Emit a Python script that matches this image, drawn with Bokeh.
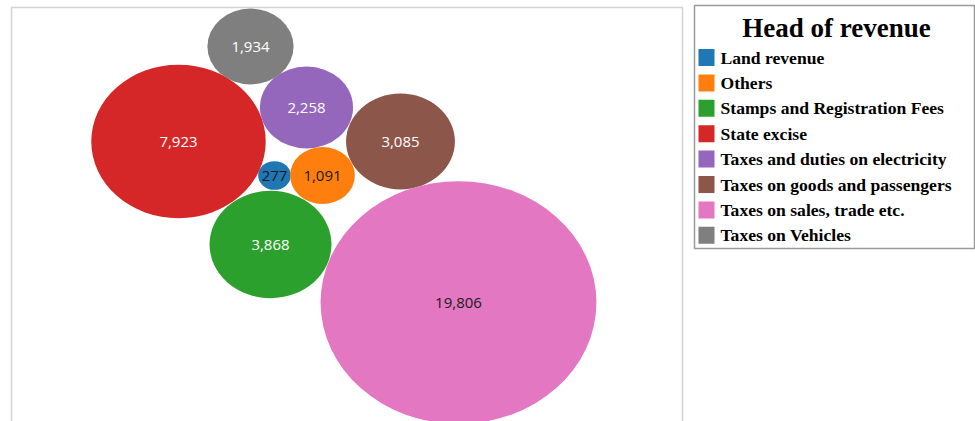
from bokeh.plotting import figure
from bokeh.models import Range1d, ColumnDataSource
from bokeh.core.properties import value
from bokeh.embed import file_html
from bokeh.resources import INLINE
import numpy as np

# ---- data ----
heads = ["Land revenue", "Others", "Stamps and Registration Fees", "State excise",
         "Taxes and duties on electricity", "Taxes on goods and passengers",
         "Taxes on sales, trade etc.", "Taxes on Vehicles"]
amounts = [277, 1091, 3868, 7923, 2258, 3085, 19806, 1934]
colors = ["#1f77b4", "#ff7f0e", "#2ca02c", "#d62728",
          "#9467bd", "#8c564b", "#e377c2", "#7f7f7f"]
label_colors = ["#1a1a1a", "#1a1a1a", "white", "white", "white", "white", "#1a1a1a", "white"]
legend_title = "Head of revenue"

# ---- packed-bubble layout (screen pixel space) ----
cx = [274, 322, 270, 178, 306, 400, 458, 250]
cy = [175, 175, 244, 141, 107, 141, 302, 46]
size_k = 1.96     # px of width per sqrt(value)
aspect = 0.88     # height / width

W, H = 975, 421
p = figure(width=W, height=H, output_backend="svg", toolbar_location=None,
           x_range=Range1d(0, W), y_range=Range1d(H, 0),
           min_border=0, outline_line_color=None)
p.axis.visible = False
p.grid.visible = False
p.background_fill_color = "white"
p.border_fill_color = "white"

# plot frame
p.quad(left=[11], right=[682], top=[7], bottom=[430], fill_color=None,
       line_color="#d4d4d4", line_width=1.5)

w = [size_k * np.sqrt(v) for v in amounts]
h = [aspect * x for x in w]
src = ColumnDataSource(dict(x=cx, y=cy, w=w, h=h, c=colors, lc=label_colors,
                            lab=[f"{v:,}" for v in amounts]))
p.ellipse(x="x", y="y", width="w", height="h", fill_color="c", line_color=None, source=src)
p.text(x="x", y="y", text="lab", text_color="lc", text_align="center",
       text_baseline="middle", text_font=value("Open Sans"), text_font_size="15px", source=src)

# legend box
p.quad(left=[694], right=[974], top=[5], bottom=[248], fill_color="white",
       line_color="#9a9a9a", line_width=1.5)
p.text(x=[836], y=[27], text=[legend_title], text_align="center", text_baseline="middle",
       text_font=value("Liberation Serif"), text_font_style="bold", text_font_size="27px",
       text_color="black")
ly = [57 + 25.4 * i for i in range(len(heads))]
p.rect(x=[706] * len(heads), y=ly, width=16, height=17, fill_color=colors, line_color=None)
p.text(x=[720] * len(heads), y=ly, text=heads, text_align="left", text_baseline="middle",
       text_font=value("Liberation Serif"), text_font_style="bold", text_font_size="17.6px",
       text_color="black")

open("out.html", "w").write(file_html(p, INLINE))
